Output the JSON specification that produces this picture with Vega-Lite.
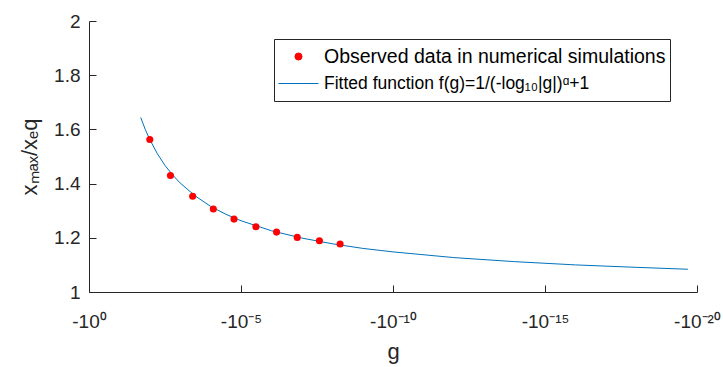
{
  "$schema": "https://vega.github.io/schema/vega-lite/v6.json",
  "width": 608,
  "height": 271,
  "autosize": "none",
  "padding": {"left": 89, "top": 21, "right": 26, "bottom": 75},
  "background": "white",
  "config": {
    "view": {"stroke": null},
    "font": "Liberation Sans",
    "axis": {
      "domainColor": "#262626",
      "domainWidth": 1,
      "tickColor": "#262626",
      "tickWidth": 1,
      "labelColor": "#262626",
      "labelFontSize": 19,
      "labelFont": "Liberation Sans",
      "titleFont": "Liberation Sans",
      "titleFontSize": 22,
      "titleFontWeight": "normal",
      "titleColor": "#262626",
      "grid": false,
      "labelOverlap": false,
      "labelFlush": false,
      "labelBound": false
    }
  },
  "resolve": {"axis": {"x": "independent", "y": "independent"}},
  "datasets": {
    "fit": [
      {"x": 1.7, "y": 1.644},
      {"x": 1.85, "y": 1.600},
      {"x": 2.0, "y": 1.5625},
      {"x": 2.25, "y": 1.510},
      {"x": 2.5, "y": 1.467},
      {"x": 2.75, "y": 1.432},
      {"x": 3.0, "y": 1.402},
      {"x": 3.5, "y": 1.354},
      {"x": 4.0, "y": 1.316},
      {"x": 4.5, "y": 1.287},
      {"x": 5.0, "y": 1.263},
      {"x": 6.0, "y": 1.226},
      {"x": 7.0, "y": 1.199},
      {"x": 8.0, "y": 1.178},
      {"x": 9.0, "y": 1.161},
      {"x": 10.0, "y": 1.148},
      {"x": 12.0, "y": 1.127},
      {"x": 14.0, "y": 1.112},
      {"x": 16.0, "y": 1.100},
      {"x": 18.0, "y": 1.091},
      {"x": 19.7, "y": 1.084}
    ],
    "obs": [
      {"x": 2.0, "y": 1.563},
      {"x": 2.68, "y": 1.430},
      {"x": 3.41, "y": 1.353},
      {"x": 4.09, "y": 1.306},
      {"x": 4.77, "y": 1.269},
      {"x": 5.49, "y": 1.241},
      {"x": 6.17, "y": 1.221},
      {"x": 6.85, "y": 1.2015},
      {"x": 7.58, "y": 1.189},
      {"x": 8.26, "y": 1.177}
    ]
  },
  "layer": [
    {
      "data": {"name": "obs"},
      "mark": {"type": "point", "opacity": 0},
      "encoding": {
        "x": {
          "field": "x",
          "type": "quantitative",
          "scale": {"domain": [0, 20], "nice": false, "zero": false},
          "axis": {
            "orient": "top",
            "offset": -271,
            "values": [0, 5, 10, 15, 20],
            "domain": false,
            "labels": false,
            "ticks": true,
            "tickSize": 7,
            "tickWidth": 1,
            "tickColor": "#262626",
            "title": null
          }
        },
        "y": {
          "field": "y",
          "type": "quantitative",
          "scale": {"domain": [1, 2], "nice": false, "zero": false},
          "axis": {
            "orient": "right",
            "offset": -608,
            "values": [1, 1.2, 1.4, 1.6, 1.8, 2],
            "domain": false,
            "labels": false,
            "ticks": true,
            "tickSize": 7,
            "tickWidth": 1,
            "tickColor": "#262626",
            "title": null
          }
        }
      }
    },
    {
      "data": {"name": "fit"},
      "mark": {"type": "line", "strokeWidth": 1},
      "encoding": {
        "x": {
          "field": "x",
          "type": "quantitative",
          "axis": {
            "orient": "bottom",
            "values": [0, 5, 10, 15, 20],
            "labelExpr": "datum.value == 0 ? '-10⁰' : datum.value == 5 ? '-10⁻⁵' : datum.value == 10 ? '-10⁻¹⁰' : datum.value == 15 ? '-10⁻¹⁵' : '-10⁻²⁰'",
            "ticks": false,
            "labelPadding": 20,
            "title": "g",
            "titlePadding": 10
          }
        },
        "y": {
          "field": "y",
          "type": "quantitative",
          "axis": {
            "orient": "left",
            "values": [1, 1.2, 1.4, 1.6, 1.8, 2],
            "format": "~g",
            "ticks": false,
            "labelPadding": 9,
            "title": "xₘₐₓ/xₑq",
            "titlePadding": 12
          }
        },
        "color": {
          "datum": "Fitted function f(g)=1/(-log₁₀|g|)ᵅ+1",
          "scale": {
            "domain": ["Observed data in numerical simulations", "Fitted function f(g)=1/(-log₁₀|g|)ᵅ+1"],
            "range": ["#ff0000", "#0072bd"]
          },
          "legend": {
            "orient": "none",
            "legendX": 185,
            "legendY": 18,
            "title": null,
            "padding": 4,
            "strokeColor": "#262626",
            "fillColor": "white",
            "symbolSize": 1600,
            "symbolType": "stroke",
            "symbolStrokeWidth": 1,
            "clipHeight": 27,
            "labelOffset": 5,
            "labelFontSize": 19.5,
            "labelColor": "black",
            "labelFont": "Liberation Sans",
            "labelLimit": 0,
            "rowPadding": 0,
            "encode": {
              "symbols": {
                "update": {
                  "shape": {"signal": "datum.index === 0 ? 'circle' : 'stroke'"},
                  "size": {"signal": "datum.index === 0 ? 50 : 1600"},
                  "fill": {"signal": "datum.index === 0 ? '#ff0000' : 'transparent'"},
                  "stroke": {"signal": "datum.index === 0 ? 'transparent' : '#0072bd'"},
                  "strokeWidth": {"value": 1},
                  "opacity": {"value": 1}
                }
              },
              "labels": {
                "update": {
                  "fontSize": {"signal": "datum.index === 0 ? 19.5 : 17.5"}
                }
              }
            }
          }
        }
      }
    },
    {
      "data": {"name": "obs"},
      "mark": {"type": "point", "filled": true, "size": 50, "opacity": 1},
      "encoding": {
        "x": {"field": "x", "type": "quantitative", "axis": null},
        "y": {"field": "y", "type": "quantitative", "axis": null},
        "color": {"datum": "Observed data in numerical simulations"}
      }
    }
  ]
}
